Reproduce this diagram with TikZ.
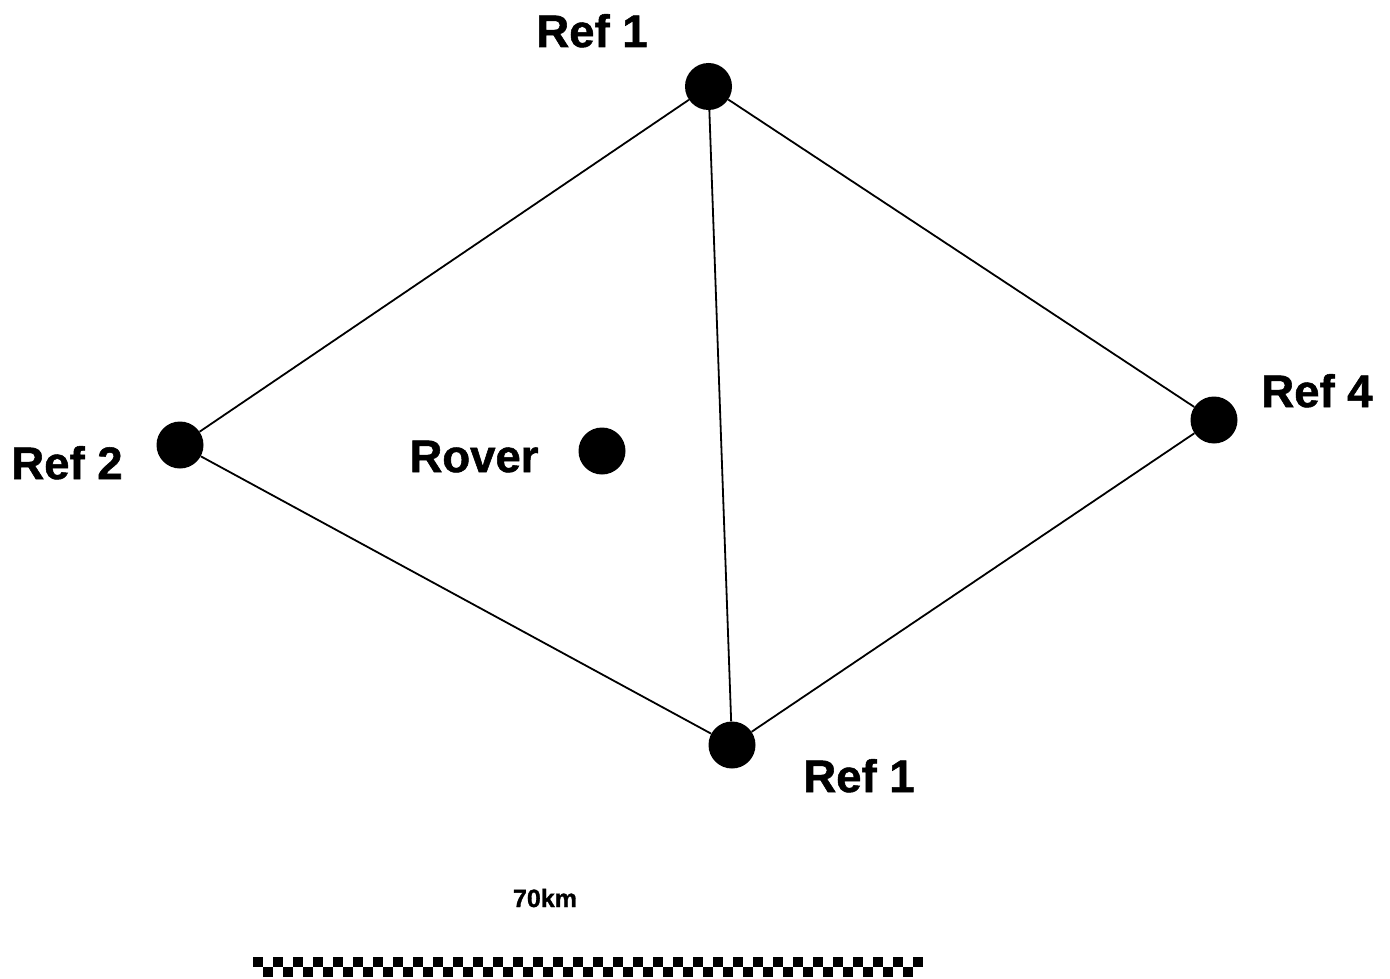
\documentclass[tikz,border=0pt]{standalone}
\usepackage{fontspec}
\setmainfont{Liberation Sans}
\newfontfamily\heavysans{Liberation Sans Bold}[FakeBold=1.2]
\begin{document}
\begin{tikzpicture}[x=1pt,y=-1pt,
  station/.style={circle,fill=black,inner sep=0pt,minimum size=47pt},
  label/.style={font=\heavysans\fontsize{45.5}{50}\selectfont,anchor=base,inner sep=0pt},
  link/.style={line width=1.8pt,black}]
\useasboundingbox (0,0) rectangle (1390,979);
\fill[white] (0,0) rectangle (1390,979);

% stations
\node[station] (r1t) at (708.5,86.5) {};
\node[station] (r2)  at (180,445) {};
\node[station] (rov) at (602,451) {};
\node[station] (r4)  at (1214,420) {};
\node[station] (r1b) at (732,745) {};

% baselines between stations
\draw[link] (r1t) -- (r2);
\draw[link] (r1t) -- (r4);
\draw[link] (r1t) -- (r1b);
\draw[link] (r2) -- (r1b);
\draw[link] (r4) -- (r1b);

% names
\node[label] (l1t) at (592,47) {Ref 1};
\node[label] (l2)  at (67,479) {Ref 2};
\node[label] (lrov) at (474,472) {Rover};
\node[label] (l4)  at (1317,407) {Ref 4};
\node[label] (l1b) at (859,792) {Ref 1};

% scale bar
\node[font=\heavysans\fontsize{25}{30}\selectfont,anchor=base,inner sep=0pt] (scl) at (545,907) {70km};
\foreach \i in {0,...,66}{
  \pgfmathtruncatemacro{\odd}{mod(\i,2)}
  \ifnum\odd=0
    \fill (253+10*\i,957) rectangle ++(10,10);
  \else
    \fill (253+10*\i,967) rectangle ++(10,10);
  \fi
}
\end{tikzpicture}
\end{document}
